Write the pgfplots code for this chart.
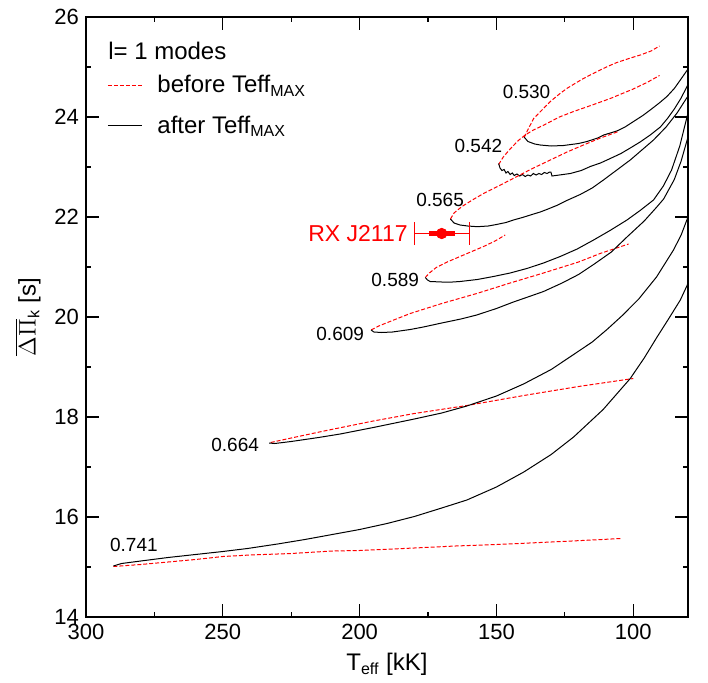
\documentclass[border=0pt]{standalone}
\usepackage{fontspec}
\setmainfont{Liberation Sans}
\usepackage{pgfplots}
\pgfplotsset{compat=1.18}
\usetikzlibrary{calc}
\begin{document}
\begin{tikzpicture}
\begin{axis}[name=ax,
 scale only axis, width=301pt, height=300pt,
 x dir=reverse, xmin=80, xmax=300, ymin=14, ymax=26,
 xtick={100,150,200,250,300}, minor x tick num=1,
 ytick={14,16,18,20,22,24,26}, minor y tick num=1,
 tick align=inside, major tick length=6.5pt, minor tick length=2.5pt,
 axis line style={line width=1pt},
 every tick/.style={black, line width=0.6pt},
 ticklabel style={font=\fontsize{11}{13}\selectfont},
 /pgf/number format/assume math mode=true,
 xlabel={T\textsubscript{eff} [kK]}, ylabel={$\overline{\Delta\Pi}_{\mathrm{k}}$ [s]},
 label style={font=\fontsize{12}{14}\selectfont},
 legend style={at={(axis cs:294.5,25.0)}, anchor=north west, draw=none, fill=none,
   font=\fontsize{12}{14}\selectfont, row sep=6pt},
 legend cell align=left,
 legend image code/.code={\draw[#1] (0pt,0pt) -- (17pt,0pt); \path (22.5pt,0pt);},
 clip=true,
]
\addlegendimage{red, dash pattern=on 2pt off 1pt, line width=0.5pt}
\addlegendentry{before Teff\textsubscript{MAX}}
\addlegendimage{black, line width=0.5pt}
\addlegendentry{after Teff\textsubscript{MAX}}

% ---- 0.530
\addplot[red, dash pattern=on 2pt off 1pt, line width=0.5pt, forget plot] coordinates {
(139.9,23.59) (138,23.8) (136.4,23.97) (133,24.16) (130.3,24.31) (127,24.46) (124.3,24.57) (121,24.68) (118.2,24.77) (115,24.86) (112.1,24.94) (109,25.02) (106.0,25.09) (101,25.18) (97.4,25.24) (93.5,25.32) (90.4,25.42)};
\addplot[black, line width=0.5pt, forget plot] coordinates {
(139.9,23.60) (138.5,23.51) (136,23.46) (134.0,23.44) (130,23.42) (125.5,23.43) (120,23.47) (116.9,23.51) (113,23.58) (110.8,23.64) (106.0,23.72) (103,23.8) (99.9,23.91) (96.5,24.03) (93.8,24.14) (90.5,24.28) (87.7,24.41) (85,24.57) (82.8,24.74) (80,24.96)};
% ---- 0.542
\addplot[red, dash pattern=on 2pt off 1pt, line width=0.5pt, forget plot] coordinates {
(149.2,23.05) (147.5,23.2) (145,23.36) (142,23.53) (139.5,23.64) (136.5,23.74) (133,23.83) (127,24.0) (121.8,24.11) (115,24.24) (108.4,24.37) (100,24.56) (95,24.69) (90.4,24.83)};
\addplot[black, line width=0.5pt, forget plot] coordinates {
(149.2,23.07) (148.7,22.98) (148.0,22.93) (147.2,22.95) (146.5,22.88) (145.8,22.91) (145,22.85) (144.2,22.88) (143.5,22.83) (142.5,22.86) (141.5,22.82) (140.5,22.85) (139.5,22.81) (138.5,22.84) (137.5,22.82) (136.5,22.87) (135.5,22.84) (134.5,22.87) (133.5,22.85) (132.5,22.89) (131.5,22.87) (130.6,22.9) (130.1,22.9) (129.7,22.82) (127,22.84) (123.0,22.87) (119,22.93) (115.7,23.01) (112,23.08) (108.4,23.17) (104.5,23.27) (101.1,23.38) (97.5,23.5) (93.8,23.64) (90.1,23.8) (87.5,23.97) (85,24.16) (82.5,24.38) (80,24.65)};
% ---- 0.565
\addplot[red, dash pattern=on 2pt off 1pt, line width=0.5pt, forget plot] coordinates {
(166.8,21.96) (165.5,22.08) (162.6,22.21) (158.5,22.35) (154.7,22.47) (148.5,22.64) (142.5,22.81) (136.5,22.98) (130.3,23.14) (124.2,23.3) (118.2,23.44) (112,23.58) (105.4,23.71)};
\addplot[black, line width=0.5pt, forget plot] coordinates {
(166.8,21.96) (165.5,21.88) (163.3,21.84) (160.5,21.82) (158,21.81) (155.9,21.81) (153,21.82) (150,21.85) (146.5,21.89) (143.8,21.94) (140.5,21.99) (137,22.05) (134,22.1) (131.6,22.15) (128,22.23) (124.3,22.33) (119.4,22.45) (115,22.58) (110.9,22.74) (106,22.94) (101.1,23.14) (96,23.38) (92.6,23.54) (88,23.8) (84,24.08) (80,24.42)};
% ---- 0.589
\addplot[red, dash pattern=on 2pt off 1pt, line width=0.5pt, forget plot] coordinates {
(176.0,20.79) (174.5,20.88) (172,20.99) (168,21.1) (163.3,21.21) (159,21.31) (154.7,21.41) (150.5,21.52) (146.8,21.64)};
\addplot[black, line width=0.5pt, forget plot] coordinates {
(176.0,20.79) (175.2,20.74) (174.2,20.71) (170,20.70) (166,20.70) (163.3,20.71) (157,20.75) (151.1,20.81) (145,20.88) (138.9,20.97) (132.8,21.08) (126.7,21.21) (120.5,21.36) (114.5,21.54) (108.5,21.73) (102.3,21.94) (97.5,22.13) (92.6,22.34) (89,22.62) (86,22.94) (83,23.42) (80,24.08)};
% ---- 0.609
\addplot[red, dash pattern=on 2pt off 1pt, line width=0.5pt, forget plot] coordinates {
(195.8,19.74) (193,19.82) (188,19.93) (181.5,20.07) (170,20.27) (157.2,20.47) (145,20.68) (132.8,20.88) (120,21.1) (112.1,21.27) (101.7,21.46)};
\addplot[black, line width=0.5pt, forget plot] coordinates {
(195.8,19.74) (194.8,19.70) (192,19.69) (188,19.70) (181.5,19.75) (176.7,19.80) (170,19.88) (163,19.96) (157.2,20.04) (150,20.17) (143.8,20.30) (138,20.41) (132.8,20.51) (126,20.68) (120,20.85) (114.5,21.05) (108,21.3) (102.3,21.6) (96,21.92) (91.4,22.2) (88.9,22.36) (85,22.75) (82.5,23.12) (80,23.6)};
% ---- 0.664
\addplot[red, dash pattern=on 2pt off 1pt, line width=0.5pt, forget plot] coordinates {
(232.5,17.49) (225,17.58) (213,17.72) (195,17.92) (180,18.07) (160.8,18.23) (140,18.43) (120,18.61) (100,18.77)};
\addplot[black, line width=0.5pt, forget plot] coordinates {
(233.1,17.48) (231,17.47) (225,17.51) (215,17.59) (207.1,17.66) (195,17.79) (180,17.96) (170,18.08) (160.8,18.22) (150,18.42) (140.1,18.66) (130,18.95) (121.8,19.25) (115,19.5) (109.6,19.75) (104,20.03) (98,20.36) (91.5,20.8) (85.3,21.34) (82.5,21.64) (80,22.0)};
% ---- 0.741
\addplot[red, dash pattern=on 2pt off 1pt, line width=0.5pt, forget plot] coordinates {
(290,15.01) (280,15.05) (270,15.1) (260,15.15) (249.9,15.21) (240,15.24) (225,15.27) (210,15.32) (200,15.33) (180,15.38) (165,15.42) (149.9,15.45) (130,15.5) (115,15.54) (104.6,15.57)};
\addplot[black, line width=0.5pt, forget plot] coordinates {
(290,15.02) (287,15.07) (280,15.12) (270,15.19) (260,15.25) (250,15.31) (241,15.37) (230,15.46) (220,15.55) (210,15.65) (200,15.75) (190,15.87) (180,16.01) (170,16.18) (160.8,16.34) (150,16.6) (140,16.9) (130,17.25) (121.8,17.6) (111,18.15) (101.1,18.77) (96,19.18) (91.3,19.6) (87,19.97) (82.8,20.34) (80,20.67)};

% ---- RX J2117
\addplot[red, no marks, forget plot, error bars/.cd, x dir=both, x explicit,
  error bar style={line width=2.2pt}, error mark=none] coordinates {(170,21.67) +- (4.8,0)};
\addplot[red, mark=*, mark size=2.6pt, only marks, forget plot, error bars/.cd, x dir=both, x explicit,
  error bar style={line width=0.5pt}, error mark=|, error mark options={red, mark size=5.8pt, line width=0.5pt}]
  coordinates {(170,21.67) +- (10,0)};

\node[anchor=west, inner sep=0pt, font=\fontsize{12}{14}\selectfont] at (axis cs:292,25.33) {l= 1 modes};
\node[font=\fontsize{9.5}{11}\selectfont] at (axis cs:139,24.5) {0.530};
\node[font=\fontsize{9.5}{11}\selectfont] at (axis cs:156.6,23.42) {0.542};
\node[font=\fontsize{9.5}{11}\selectfont] at (axis cs:170.6,22.34) {0.565};
\node[font=\fontsize{9.5}{11}\selectfont] at (axis cs:187,20.74) {0.589};
\node[font=\fontsize{9.5}{11}\selectfont] at (axis cs:207.1,19.67) {0.609};
\node[font=\fontsize{9.5}{11}\selectfont] at (axis cs:245.5,17.44) {0.664};
\node[font=\fontsize{9.5}{11}\selectfont] at (axis cs:282.5,15.45) {0.741};
\node[anchor=east, inner sep=0pt, red, font=\fontsize{11.5}{13}\selectfont] at (axis cs:182.3,21.67) {RX J2117};
\end{axis}
\pgfresetboundingbox
\path ($(ax.south west)+(-43pt,-32.5pt)$) rectangle ($(ax.north east)+(10pt,8.5pt)$);
\end{tikzpicture}
\end{document}
